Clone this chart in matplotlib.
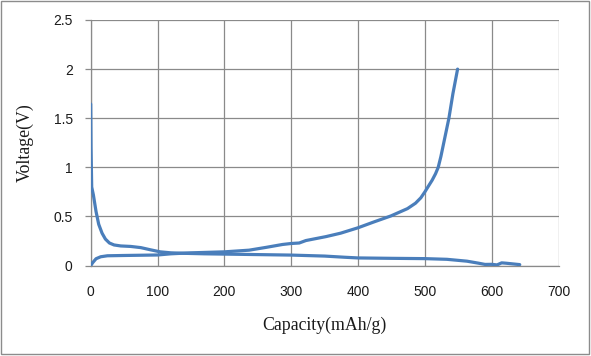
import matplotlib
matplotlib.use("Agg")
import matplotlib.pyplot as plt
from matplotlib.patches import Rectangle

# Discharge curve (capacity mAh/g, voltage V)
dis_cap = [0, 0.5, 1.5, 4, 8, 12, 17, 22, 28, 35, 45, 60, 75, 90, 104, 120, 140,
           170, 200, 250, 300, 350, 380, 400, 450, 500, 533, 563, 580, 590, 600,
           608, 615, 622, 642]
dis_v = [1.645, 1.2, 0.8, 0.72, 0.55, 0.42, 0.33, 0.27, 0.23, 0.21, 0.20, 0.195,
         0.183, 0.16, 0.14, 0.13, 0.125, 0.12, 0.117, 0.112, 0.107, 0.097, 0.085,
         0.078, 0.074, 0.071, 0.064, 0.045, 0.025, 0.012, 0.013, 0.007, 0.028,
         0.024, 0.01]

# Charge curve
chg_cap = [0, 3, 8, 15, 25, 50, 100, 120, 150, 200, 237, 262, 287, 300, 312, 322,
           352, 374, 400, 424, 449, 474, 486, 494, 500, 505, 511, 516, 520, 524,
           528, 532, 536, 542, 549]
chg_v = [0.0, 0.03, 0.07, 0.09, 0.1, 0.103, 0.108, 0.12, 0.13, 0.14, 0.157, 0.185,
         0.215, 0.225, 0.23, 0.255, 0.295, 0.33, 0.385, 0.445, 0.505, 0.58, 0.635,
         0.69, 0.75, 0.805, 0.87, 0.935, 1.0, 1.11, 1.24, 1.37, 1.5, 1.75, 2.0]

x_ticks = [0, 100, 200, 300, 400, 500, 600, 700]
y_ticks = [0, 0.5, 1, 1.5, 2, 2.5]
y_tick_labels = ["0", "0.5", "1", "1.5", "2", "2.5"]

W, H = 591, 356
fig = plt.figure(figsize=(W / 100, H / 100), dpi=100)
ax = fig.add_axes([90.7 / W, 90.4 / H, (558.5 - 90.7) / W, (265.6 - 20) / H])

grid_c = "#8a8a8a"
line_c = "#4a7ebb"

ax.plot(dis_cap, dis_v, color=line_c, lw=2.3, solid_joinstyle="round",
        solid_capstyle="round", zorder=3)
ax.plot(chg_cap, chg_v, color=line_c, lw=2.3, solid_joinstyle="round",
        solid_capstyle="round", zorder=3)

ax.set_xlim(0, 700)
ax.set_ylim(0, 2.5)
ax.set_xticks(x_ticks)
ax.set_yticks(y_ticks)
ax.set_yticklabels(y_tick_labels)
ax.grid(True, color=grid_c, lw=0.9)
ax.set_axisbelow(True)

for s in ["top", "right"]:
    ax.spines[s].set_visible(False)
for s in ["left", "bottom"]:
    ax.spines[s].set_color(grid_c)
    ax.spines[s].set_linewidth(0.9)

ax.tick_params(axis="y", length=4, width=0.9, color=grid_c, pad=9,
               labelcolor="#1a1a1a")
ax.tick_params(axis="x", length=0, pad=14, labelcolor="#1a1a1a")
for lab in ax.get_xticklabels() + ax.get_yticklabels():
    lab.set_fontfamily("Liberation Sans")
    lab.set_fontsize(10)

ax.set_xlabel("Capacity(mAh/g)", family="Liberation Serif", fontsize=12.8,
              labelpad=13, color="#1a1a1a")
ax.set_ylabel("Voltage(V)", family="Liberation Serif", fontsize=12.8,
              labelpad=14, color="#1a1a1a")

fig.patches.append(Rectangle((1 / W, 2 / H), 588 / W, 353 / H, transform=fig.transFigure,
                             fill=False, edgecolor="#8c8c8c", lw=1.0))

fig.savefig("out.png", dpi=100)
